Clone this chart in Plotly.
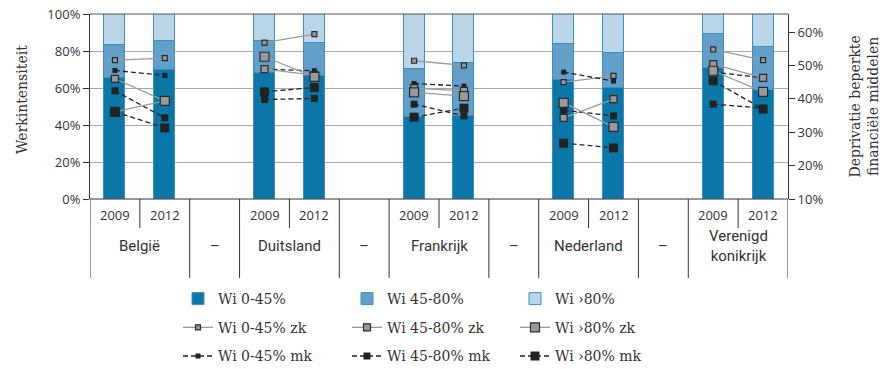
import plotly.graph_objects as go

countries = ["België", "Duitsland", "Frankrijk", "Nederland", "Verenigd<br>konikrijk"]
years = ["2009", "2012"]
separator_label = "–"

# Stacked bar shares (% of households), per country
bar_low_2009 = [65.2, 67.9, 44.2, 64.3, 71.0]
bar_low_2012 = [69.7, 66.5, 45.0, 59.8, 58.8]
bar_mid_2009 = [18.0, 17.7, 26.1, 19.7, 18.2]
bar_mid_2012 = [15.7, 18.0, 28.7, 19.0, 23.2]
bar_high_2009 = [16.8, 14.4, 29.7, 16.0, 10.8]
bar_high_2012 = [14.6, 15.5, 26.3, 21.2, 18.0]

# Deprivation (right axis, %)
zk_low_2009 = [51.6, 56.8, 51.4, 45.0, 54.8]
zk_low_2012 = [52.2, 59.4, 50.0, 46.9, 51.6]
zk_mid_2009 = [46.0, 48.9, 43.2, 34.3, 50.4]
zk_mid_2012 = [39.4, 47.1, 42.4, 39.9, 46.3]
zk_high_2009 = [36.1, 52.6, 41.9, 38.8, 48.4]
zk_high_2012 = [39.4, 46.6, 40.8, 31.6, 42.1]
mk_low_2009 = [48.5, 48.9, 44.6, 48.0, 48.0]
mk_low_2012 = [47.0, 48.4, 43.8, 45.3, 46.3]
mk_mid_2009 = [42.4, 39.8, 38.4, 36.6, 38.4]
mk_mid_2012 = [34.3, 40.1, 34.9, 34.9, 37.2]
mk_high_2009 = [36.1, 42.1, 34.5, 26.7, 45.4]
mk_high_2012 = [31.3, 43.4, 37.2, 25.3, 36.9]

left_ticks = [0, 20, 40, 60, 80, 100]
left_labels = ["0%", "20%", "40%", "60%", "80%", "100%"]
right_ticks = [10, 20, 30, 40, 50, 60]
right_labels = ["10%", "20%", "30%", "40%", "50%", "60%"]

C_DARK = "#0b76a8"
C_MID = "#62a0c9"
C_LIGHT = "#bad5e8"
EDGE = "#3e8fc0"
TXT = "#333333"
SERIF = "DejaVu Serif, Liberation Serif, serif"
SANS = "Open Sans, Lato, sans-serif"
NARROW = "Liberation Sans Narrow, Roboto, sans-serif"

W, H = 887, 369

n = len(countries)
x09 = [3 * i for i in range(n)]
x12 = [3 * i + 1 for i in range(n)]
xdash = [3 * i + 2 for i in range(n - 1)]
bar_x = []
for i in range(n):
    bar_x += [x09[i], x12[i]]

def pairs(a, b):
    out = []
    for i in range(n):
        out += [a[i], b[i]]
    return out

fig = go.Figure()

bar_specs = [
    ("Wi 0-45%", bar_low_2009, bar_low_2012, C_DARK, "legend"),
    ("Wi 45-80%", bar_mid_2009, bar_mid_2012, C_MID, "legend2"),
    ("Wi ›80%", bar_high_2009, bar_high_2012, C_LIGHT, "legend3"),
]
for name, a, b, col, lg in bar_specs:
    fig.add_trace(go.Bar(
        x=bar_x, y=pairs(a, b), name=name, width=0.42,
        marker=dict(color=col, line=dict(color=EDGE, width=1)),
        legend=lg, legendgroup=name, legendrank=1,
    ))

def line_xy(a, b):
    xs, ys = [], []
    for i in range(n):
        xs += [x09[i], x12[i], None]
        ys += [a[i], b[i], None]
    return xs, ys

line_specs = [
    ("Wi 0-45% zk", zk_low_2009, zk_low_2012, "zk", 5, "legend"),
    ("Wi 0-45% mk", mk_low_2009, mk_low_2012, "mk", 5, "legend"),
    ("Wi 45-80% zk", zk_mid_2009, zk_mid_2012, "zk", 7, "legend2"),
    ("Wi 45-80% mk", mk_mid_2009, mk_mid_2012, "mk", 7, "legend2"),
    ("Wi ›80% zk", zk_high_2009, zk_high_2012, "zk", 9, "legend3"),
    ("Wi ›80% mk", mk_high_2009, mk_high_2012, "mk", 9, "legend3"),
]
for name, a, b, kind, size, lg in line_specs:
    xs, ys = line_xy(a, b)
    if kind == "zk":
        line = dict(color="#9a9a9a", width=1.3)
        marker = dict(symbol="square", size=size, color="#9a9a9a", line=dict(color="#2a2a2a", width=1.2))
        rank = 2
    else:
        line = dict(color="#222222", width=1.3, dash="5px,3px")
        marker = dict(symbol="square", size=size, color="#222222", line=dict(color="#222222", width=0))
        rank = 3
    fig.add_trace(go.Scatter(
        x=xs, y=ys, name=name, mode="lines+markers", yaxis="y2",
        line=line, marker=marker, connectgaps=False,
        legend=lg, legendgroup=name, legendrank=rank,
    ))

# table-like category axis
shapes = []
long_bottom = -0.427
short_bottom = -0.157
long_div = [-0.5, 13.5]
for i in range(n):
    long_div.append(x12[i] + 0.5)
    if i > 0:
        long_div.append(x09[i] - 0.5)
for xv in sorted(set(long_div)):
    shapes.append(dict(type="line", xref="x", yref="paper", x0=xv, x1=xv,
                       y0=long_bottom, y1=0, line=dict(color="#333", width=1)))
for i in range(n):
    xv = x09[i] + 0.5
    shapes.append(dict(type="line", xref="x", yref="paper", x0=xv, x1=xv,
                       y0=short_bottom, y1=0, line=dict(color="#333", width=1)))
shapes.append(dict(type="line", xref="paper", yref="paper", x0=0, x1=1, y0=1, y1=1,
                   line=dict(color="#555", width=1.2)))
shapes.append(dict(type="line", xref="paper", yref="paper", x0=0, x1=1, y0=0, y1=0,
                   line=dict(color="#333", width=1.2)))

annotations = []
for i in range(n):
    for xv, yr in ((x09[i], years[0]), (x12[i], years[1])):
        annotations.append(dict(x=xv, y=-0.0865, xref="x", yref="paper", text=yr,
                                xanchor="center", yanchor="middle",
                                showarrow=False, font=dict(family=SANS, size=13, color=TXT)))
    annotations.append(dict(x=x09[i] + 0.5, y=-0.254, xref="x", yref="paper", text=countries[i],
                            xanchor="center", yanchor="middle",
                            showarrow=False, font=dict(family=NARROW, size=15, color=TXT)))
for xv in xdash:
    annotations.append(dict(x=xv, y=-0.254, xref="x", yref="paper", text=separator_label,
                            xanchor="center", yanchor="middle",
                            showarrow=False, font=dict(family=NARROW, size=15, color=TXT)))
annotations.append(dict(x=-0.0974, y=0.535, xref="paper", yref="paper", text="Werkintensiteit",
                        xanchor="center", yanchor="middle",
                        textangle=-90, showarrow=False, font=dict(family=SERIF, size=14, color=TXT)))
annotations.append(dict(x=1.1075, y=0.5, xref="paper", yref="paper",
                        text="Deprivatie beperkte<br>financiële middelen",
                        xanchor="center", yanchor="middle",
                        textangle=-90, showarrow=False, font=dict(family=SERIF, size=14, color=TXT)))

leg_common = dict(orientation="v", xanchor="left", yanchor="top", y=0.233,
                  xref="container", yref="container",
                  bgcolor="rgba(0,0,0,0)", tracegroupgap=7.5, itemwidth=30,
                  font=dict(family=SERIF, size=14, color=TXT), traceorder="grouped")

fig.update_layout(
    width=W, height=H,
    margin=dict(l=90, r=99, t=14, b=170, autoexpand=False),
    plot_bgcolor="white", paper_bgcolor="white",
    barmode="stack", bargap=0,
    showlegend=True,
    xaxis=dict(range=[-0.5, 13.5], showticklabels=False, showgrid=False, zeroline=False,
               showline=False, ticks="", automargin=False),
    yaxis=dict(range=[0, 100], tickmode="array", tickvals=left_ticks, ticktext=left_labels,
               showgrid=True, automargin=False, ticklabeloverflow="allow",
               gridcolor="#a8a8a8", gridwidth=1, zeroline=False, showline=True,
               linecolor="#333", linewidth=1, ticks="outside", ticklen=6, tickcolor="#333",
               tickfont=dict(family=SANS, size=13, color=TXT)),
    yaxis2=dict(range=[10, 65.4], tickmode="array", tickvals=right_ticks, ticktext=right_labels,
                overlaying="y", automargin=False, ticklabeloverflow="allow",
                side="right", showgrid=False, zeroline=False, showline=True,
                linecolor="#333", linewidth=1, ticks="outside", ticklen=6, tickcolor="#333",
                tickfont=dict(family=SANS, size=13, color=TXT)),
    legend=dict(x=178 / W, **leg_common),
    legend2=dict(x=347 / W, **leg_common),
    legend3=dict(x=515 / W, **leg_common),
    shapes=shapes,
    annotations=annotations,
)

fig.write_html("out.html", config={"displayModeBar": False},
               post_script="document.body.style.margin='0px';")
